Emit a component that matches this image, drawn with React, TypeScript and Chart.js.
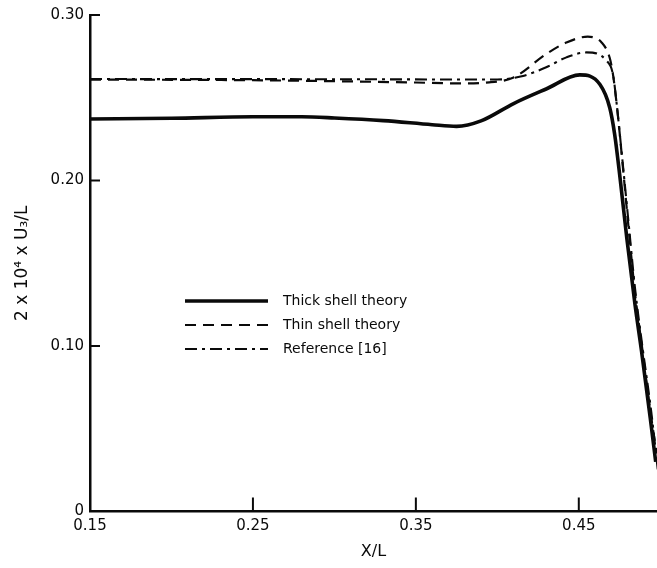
import React, { useEffect, useRef } from "react";
import { Chart, registerables } from "chart.js";

Chart.register(...registerables);

const xTicks = [0.15, 0.25, 0.35, 0.45];
const xTickLabels = ["0.15", "0.25", "0.35", "0.45"];
const yTicks = [0, 0.1, 0.2, 0.3];
const yTickLabels = ["0", "0.10", "0.20", "0.30"];

const thickX = [0.15, 0.2, 0.25, 0.28, 0.3, 0.33, 0.36, 0.375, 0.39, 0.41, 0.43, 0.4506, 0.463, 0.469, 0.472, 0.4755, 0.4795, 0.4845, 0.4885, 0.4938, 0.4972];
const thickY = [0.2372, 0.2376, 0.2385, 0.2385, 0.2378, 0.2362, 0.2337, 0.2327, 0.236, 0.2465, 0.2553, 0.2638, 0.258, 0.244, 0.228, 0.2, 0.165, 0.125, 0.097, 0.057, 0.03];

const thinX = [0.15, 0.25, 0.3, 0.35, 0.375, 0.395, 0.41, 0.43, 0.4424, 0.4555, 0.464, 0.469, 0.471, 0.4735, 0.4765, 0.4805, 0.4845, 0.489, 0.494, 0.4978];
const thinY = [0.261, 0.2606, 0.26, 0.2592, 0.2587, 0.2593, 0.2623, 0.2764, 0.2834, 0.2869, 0.2834, 0.274, 0.264, 0.244, 0.214, 0.172, 0.132, 0.098, 0.06, 0.035];

const refX = [0.15, 0.3, 0.4, 0.415, 0.43, 0.4424, 0.4547, 0.467, 0.471, 0.4735, 0.4765, 0.4805, 0.4845, 0.489, 0.4945, 0.4985];
const refY = [0.2613, 0.2612, 0.261, 0.263, 0.2684, 0.2744, 0.2774, 0.2724, 0.264, 0.244, 0.215, 0.175, 0.135, 0.1, 0.06, 0.025];

const seriesNames = ["Thick shell theory", "Thin shell theory", "Reference [16]"];

const FONT = '"DejaVu Sans", sans-serif';
const INK = "#0a0a0a";

const toPts = (xs: number[], ys: number[]) => xs.map((x, i) => ({ x, y: ys[i] }));

const styles = [
  { width: 3.6, dash: [] as number[] },
  { width: 2.2, dash: [11, 7] },
  { width: 2.1, dash: [12, 5, 3, 5] },
];

const overlayPlugin = {
  id: "overlay",
  afterDraw(chart: any) {
    const ctx = chart.ctx;
    const xs = chart.scales.x;
    const ys = chart.scales.y;
    const area = chart.chartArea;
    ctx.save();
    ctx.strokeStyle = INK;
    ctx.lineWidth = 2;
    ctx.setLineDash([]);
    xTicks.forEach((v) => {
      if (v === xs.min) return;
      const px = xs.getPixelForValue(v);
      ctx.beginPath();
      ctx.moveTo(px, area.bottom);
      ctx.lineTo(px, area.bottom - 14);
      ctx.stroke();
    });
    yTicks.forEach((v) => {
      if (v === ys.min) return;
      const py = ys.getPixelForValue(v);
      ctx.beginPath();
      ctx.moveTo(area.left, py);
      ctx.lineTo(area.left + 10, py);
      ctx.stroke();
    });
    // legend
    const lx0 = 185;
    const lx1 = 268;
    const rows = [301, 325, 349];
    ctx.font = `14px ${FONT}`;
    ctx.fillStyle = INK;
    ctx.textBaseline = "middle";
    ctx.textAlign = "left";
    seriesNames.forEach((name, i) => {
      ctx.lineWidth = styles[i].width;
      ctx.setLineDash(styles[i].dash);
      ctx.beginPath();
      ctx.moveTo(lx0, rows[i]);
      ctx.lineTo(lx1, rows[i]);
      ctx.stroke();
      ctx.fillText(name, 283, rows[i]);
    });
    ctx.restore();
  },
};

export default function App() {
  const ref = useRef<HTMLCanvasElement>(null);
  useEffect(() => {
    if (!ref.current) return;
    const datasets = [
      toPts(thickX, thickY),
      toPts(thinX, thinY),
      toPts(refX, refY),
    ].map((data, i) => ({
      label: seriesNames[i],
      data,
      borderColor: INK,
      borderWidth: styles[i].width,
      borderDash: styles[i].dash,
      pointRadius: 0,
      fill: false,
      cubicInterpolationMode: "monotone" as const,
    }));
    const chart = new Chart(ref.current, {
      type: "line",
      data: { datasets },
      plugins: [overlayPlugin],
      options: {
        animation: false,
        responsive: false,
        maintainAspectRatio: false,
        layout: { padding: { top: 14, right: 0, bottom: 0, left: 0 } },
        plugins: { legend: { display: false }, tooltip: { enabled: false } },
        scales: {
          x: {
            type: "linear",
            min: 0.15,
            max: 0.498,
            afterBuildTicks: (s: any) => {
              s.ticks = xTicks.map((v) => ({ value: v }));
            },
            afterFit: (s: any) => {
              s.height = 56.5;
            },
            ticks: {
              callback: (_v: any, i: number) => xTickLabels[i],
              color: INK,
              font: { family: FONT, size: 15 },
              padding: 6,
              maxRotation: 0,
              autoSkip: false,
            },
            grid: { display: false, drawTicks: false },
            border: { display: true, color: INK, width: 2.5 },
            title: {
              display: true,
              text: "X/L",
              color: INK,
              font: { family: FONT, size: 16 },
              padding: { top: 0, bottom: 7 },
            },
          },
          y: {
            type: "linear",
            min: 0,
            max: 0.3,
            afterBuildTicks: (s: any) => {
              s.ticks = yTicks.map((v) => ({ value: v }));
            },
            afterFit: (s: any) => {
              s.width = 90;
            },
            ticks: {
              callback: (_v: any, i: number) => yTickLabels[i],
              color: INK,
              font: { family: FONT, size: 15 },
              padding: 6,
              autoSkip: false,
            },
            grid: { display: false, drawTicks: false },
            border: { display: true, color: INK, width: 2.5 },
            title: {
              display: true,
              text: "2 x 10\u2074 x U\u2083/L",
              color: INK,
              font: { family: FONT, size: 17 },
              padding: { top: 12, bottom: 0 },
            },
          },
        },
      },
    });
    return () => chart.destroy();
  }, []);
  return (
    <div style={{ position: "absolute", left: 0, top: 0, width: 657, height: 568, background: "#fff" }}>
      <canvas ref={ref} width={657} height={568} />
    </div>
  );
}
